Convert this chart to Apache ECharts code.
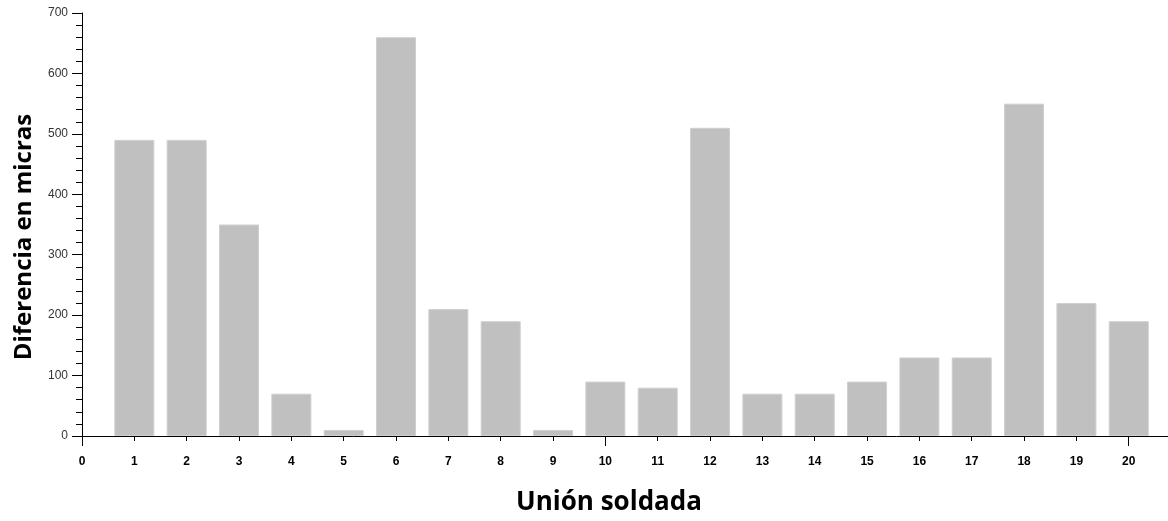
<!DOCTYPE html>
<html>
<head>
<meta charset="utf-8">
<script src="https://cdn.jsdelivr.net/npm/echarts@6/dist/echarts.min.js"></script>
<style>
  html, body { margin: 0; padding: 0; background: #ffffff; }
  #chart { width: 1168px; height: 521px; }
</style>
</head>
<body>
<div id="chart"></div>
<script>
// Unión soldada number and measured difference (micras)
const joints = [1, 2, 3, 4, 5, 6, 7, 8, 9, 10, 11, 12, 13, 14, 15, 16, 17, 18, 19, 20];
const differences = [490, 490, 350, 70, 10, 660, 210, 190, 10, 90, 80, 510, 70, 70, 90, 130, 130, 550, 220, 190];
const yTicks = [0, 100, 200, 300, 400, 500, 600, 700];
const xTickLabels = ['0', '1', '2', '3', '4', '5', '6', '7', '8', '9', '10',
                     '11', '12', '13', '14', '15', '16', '17', '18', '19', '20'];
const xTitle = 'Unión soldada';
const yTitle = 'Diferencia en micras';

const chart = echarts.init(document.getElementById('chart'), null, { renderer: 'canvas' });

const barData = joints.map((j, i) => [j, differences[i]]);

const titleStyle = {
  fontFamily: 'Open Sans',
  fontWeight: 'bold',
  fill: '#000000',
  align: 'center',
  verticalAlign: 'middle'
};

chart.setOption({
  animation: false,
  backgroundColor: '#ffffff',
  grid: { left: 82, right: 0, top: 13, bottom: 85, containLabel: false, outerBoundsMode: 'none' },
  graphic: [
    {
      type: 'text',
      x: 609,
      y: 503,
      style: Object.assign({ text: xTitle, fontSize: 26 }, titleStyle)
    },
    {
      type: 'text',
      x: 24,
      y: 237,
      rotation: Math.PI / 2,
      style: Object.assign({ text: yTitle, fontSize: 24 }, titleStyle)
    }
  ],
  xAxis: [
    {
      type: 'value',
      min: 0,
      max: 20.75,
      interval: 1,
      splitLine: { show: false },
      axisLine: { show: true, onZero: false, lineStyle: { color: '#000000', width: 1 } },
      axisTick: { show: true, length: 5, lineStyle: { color: '#000000' } },
      axisLabel: {
        margin: 20,
        fontFamily: 'Liberation Sans',
        fontWeight: 'bold',
        fontSize: 12,
        color: '#000000',
        showMaxLabel: false,
        formatter: v => (Number.isInteger(v) && v <= 20 ? xTickLabels[v] : '')
      }
    },
    {
      // longer ticks at 0, 10, 20
      type: 'value',
      min: 0,
      max: 20.75,
      interval: 10,
      position: 'bottom',
      splitLine: { show: false },
      axisLine: { show: false },
      axisTick: { show: true, length: 10, lineStyle: { color: '#000000' } },
      axisLabel: { show: false }
    }
  ],
  yAxis: {
    type: 'value',
    min: yTicks[0],
    max: yTicks[yTicks.length - 1],
    interval: 100,
    splitLine: { show: false },
    axisLine: { show: true, lineStyle: { color: '#000000', width: 1 } },
    axisTick: { show: true, length: 10, lineStyle: { color: '#000000' } },
    minorTick: { show: true, splitNumber: 5, length: 6, lineStyle: { color: '#000000' } },
    axisLabel: {
      margin: 14,
      fontFamily: 'Liberation Sans',
      fontSize: 12,
      color: '#333333'
    }
  },
  series: [
    {
      type: 'bar',
      xAxisIndex: 0,
      data: barData,
      barWidth: 40,
      itemStyle: { color: '#c0c0c0', borderColor: '#cfcfcf', borderWidth: 1 },
      z: 1
    }
  ]
});
</script>
</body>
</html>
